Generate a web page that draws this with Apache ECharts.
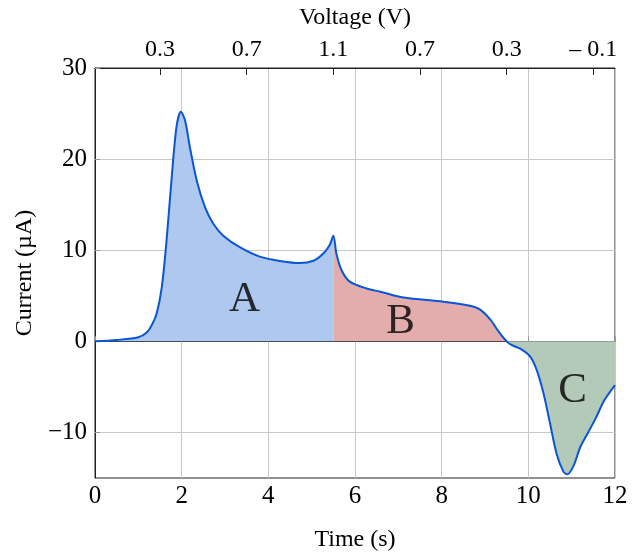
<!DOCTYPE html>
<html>
<head>
<meta charset="utf-8">
<script src="https://cdn.jsdelivr.net/npm/echarts@6/dist/echarts.min.js"></script>
<style>
html, body { margin: 0; padding: 0; background: #fff; }
#chart { width: 639px; height: 552px; }
</style>
</head>
<body>
<div id="chart"></div>
<script>
// curve
var times = [0, 0.5, 1.0, 1.2, 1.3, 1.42, 1.54, 1.65, 1.77, 1.88, 1.98, 2.08, 2.19, 2.35, 2.54, 2.73, 2.96, 3.35, 3.8, 4.3,
    4.73, 5.04, 5.27, 5.42, 5.5,
    5.57, 5.69, 5.88, 6.27, 6.58, 7.12, 8.04, 8.65, 8.88, 9.12, 9.31, 9.5,
    9.61, 9.85, 10.04, 10.19, 10.35, 10.5, 10.65, 10.81, 10.9, 11.04, 11.2, 11.38, 11.56, 11.75, 12.0];
var currents = [0, 0.15, 0.45, 1.0, 1.7, 3.0, 5.9, 11.0, 18.0, 23.5, 25.2, 24.2, 21.3, 17.6, 14.7, 12.9, 11.6, 10.3, 9.3, 8.8,
    8.6, 8.85, 9.65, 10.6, 11.6,
    9.65, 7.8, 6.55, 5.8, 5.45, 4.8, 4.35, 3.9, 3.5, 2.4, 1.1, 0,
    -0.4, -0.9, -1.65, -3.1, -5.7, -9.0, -12.3, -14.3, -14.6, -13.7, -11.6, -10.0, -8.4, -6.5, -4.8];

// region boundaries (time) and names
var regionNames = ['A', 'B', 'C'];
var regionStart = [0, 5.5, 9.5];
var regionEnd = [5.5, 9.5, 12];
var regionColors = ['#aec8f0', '#e3adad', '#b4cab9'];
var regionLabelX = [3.45, 7.05, 11.02];
var regionLabelY = [4.6, 2.2, -5.4];

// top axis: voltage
var voltTicks = [1.5, 3.5, 5.5, 7.5, 9.5, 11.5];
var voltLabels = ['0.3', '0.7', '1.1', '0.7', '0.3', '\u2013 0.1'];

var yTicks = [-10, 0, 10, 20, 30];

var font = 'Liberation Serif';

var points = times.map(function (t, i) { return [t, currents[i]]; });

var series = [];
regionNames.forEach(function (n, k) {
    series.push({
        name: n,
        type: 'line',
        data: points.filter(function (p) { return p[0] >= regionStart[k] && p[0] <= regionEnd[k]; }),
        smooth: 0.3,
        symbol: 'none',
        lineStyle: { width: 0 },
        areaStyle: { color: regionColors[k], opacity: 1 },
        z: 1,
        silent: true
    });
});
series.push({
    name: 'curve',
    type: 'line',
    data: points,
    smooth: 0.3,
    symbol: 'none',
    lineStyle: { color: '#0a55d6', width: 2 },
    z: 3
});
series.push({
    name: 'labels',
    type: 'scatter',
    symbolSize: 0,
    data: regionNames.map(function (n, k) { return { name: n, value: [regionLabelX[k], regionLabelY[k]] }; }),
    label: {
        show: true,
        position: 'inside',
        formatter: '{b}',
        fontFamily: font,
        fontSize: 43,
        color: '#000'
    },
    z: 4
});

var myChart = echarts.init(document.getElementById('chart'));
var option = {
    animation: false,
    grid: {
        left: 95, right: 24, top: 68, bottom: 74,
        outerBoundsMode: 'none',
        show: true, borderColor: '#222', borderWidth: 1
    },
    xAxis: [
        {
            type: 'value',
            min: 0, max: 12, interval: 2,
            name: 'Time (s)',
            nameLocation: 'middle',
            nameGap: 50,
            nameTextStyle: { fontFamily: font, fontSize: 24, color: '#000' },
            axisLine: { lineStyle: { color: '#222' } },
            axisTick: { inside: true, length: 5, lineStyle: { color: '#999' } },
            axisLabel: { fontFamily: font, fontSize: 25, color: '#000', margin: 6 },
            splitLine: { show: true, lineStyle: { color: '#c8c8c8' } }
        },
        {
            type: 'value',
            position: 'top',
            min: 0, max: 12,
            name: 'Voltage (V)',
            nameLocation: 'middle',
            nameGap: 38,
            nameTextStyle: { fontFamily: font, fontSize: 24, color: '#000' },
            axisLine: { lineStyle: { color: '#222' } },
            axisTick: { inside: true, length: 7, customValues: voltTicks, lineStyle: { color: '#222' } },
            axisLabel: {
                fontFamily: font, fontSize: 24, color: '#000', margin: 6,
                customValues: voltTicks,
                formatter: function (v) { return voltLabels[voltTicks.indexOf(v)]; }
            },
            splitLine: { show: false }
        }
    ],
    yAxis: {
        type: 'value',
        min: -15, max: 30,
        name: 'Current (\u00b5A)',
        nameLocation: 'middle',
        nameGap: 54,
        nameTextStyle: { fontFamily: font, fontSize: 24, color: '#000' },
        axisLine: { show: true, lineStyle: { color: '#222' } },
        axisTick: { show: true, inside: true, length: 5, customValues: yTicks, lineStyle: { color: '#999' } },
        axisLabel: {
            fontFamily: font, fontSize: 25, color: '#000', margin: 8,
            customValues: yTicks,
            formatter: function (v) { return v < 0 ? '\u2212' + Math.abs(v) : String(v); }
        },
        splitLine: { show: true, lineStyle: { color: '#c8c8c8' } }
    },
    series: series
};
myChart.setOption(option);
</script>
</body>
</html>
